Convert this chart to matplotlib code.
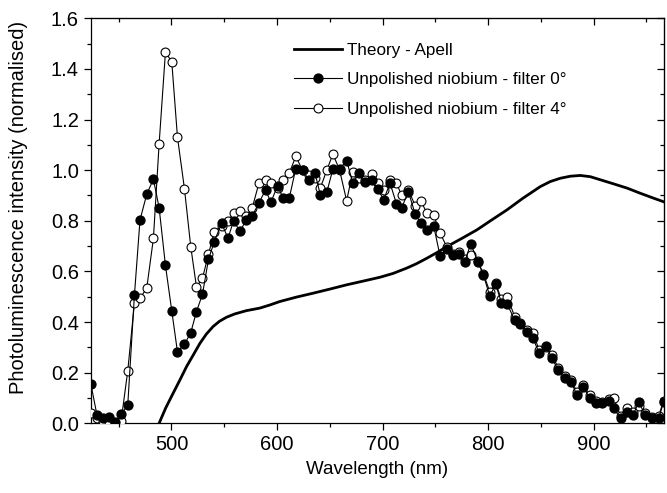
import matplotlib
matplotlib.use("Agg")
import matplotlib.pyplot as plt
from matplotlib.ticker import MultipleLocator, FormatStrFormatter

plt.rcParams['font.family'] = ['Liberation Sans', 'DejaVu Sans']
plt.rcParams['font.size'] = 14

# wavelength grid (nm), shared by both measured series
wavelength = [
    423.7, 429.4, 435.0, 441.2, 446.9, 452.3, 458.6, 464.9, 470.2, 476.6,
    482.9, 488.3, 494.3, 500.3, 505.7, 512.3, 518.3, 523.7, 529.4, 535.1,
    540.6, 547.5, 553.6, 558.8, 565.1, 570.8, 576.5, 582.9, 589.2, 594.2,
    600.5, 605.9, 611.6, 617.8, 624.2, 629.9, 636.0, 641.1, 647.3, 653.0,
    659.3, 666.0, 671.8, 678.0, 683.4, 689.7, 695.5, 701.1, 707.1, 713.1,
    718.2, 724.5, 730.9, 736.2, 742.0, 748.5, 754.6, 760.7, 766.7, 772.4,
    777.9, 783.6, 790.2, 795.6, 801.6, 807.2, 812.6, 818.2, 825.3, 830.5,
    836.8, 842.5, 848.4, 854.8, 860.6, 866.3, 872.5, 878.6, 884.2, 890.0,
    896.3, 902.6, 908.0, 914.2, 919.0, 925.5, 931.7, 937.4, 942.7, 949.0,
    955.4, 961.7, 966.4,
]

filter0 = [
    0.154, 0.033, 0.020, 0.026, 0.005, 0.037, 0.072, 0.505, 0.803, 0.905,
    0.964, 0.852, 0.624, 0.444, 0.282, 0.312, 0.358, 0.441, 0.510, 0.648,
    0.718, 0.790, 0.731, 0.799, 0.758, 0.804, 0.819, 0.871, 0.922, 0.873,
    0.938, 0.889, 0.889, 1.006, 1.001, 0.962, 0.988, 0.902, 0.915, 1.004,
    1.004, 1.038, 0.949, 0.988, 0.955, 0.962, 0.925, 0.883, 0.949, 0.868,
    0.852, 0.915, 0.827, 0.790, 0.762, 0.779, 0.659, 0.688, 0.665, 0.670,
    0.637, 0.710, 0.639, 0.586, 0.502, 0.549, 0.477, 0.470, 0.407, 0.392,
    0.362, 0.336, 0.278, 0.305, 0.257, 0.211, 0.178, 0.164, 0.112, 0.145,
    0.099, 0.079, 0.081, 0.089, 0.059, 0.020, 0.046, 0.033, 0.083, 0.033,
    0.020, 0.020, 0.085,
]

filter4 = [
    0.040, 0.020, 0.010, 0.005, 0.000, 0.010, 0.207, 0.474, 0.494, 0.534,
    0.730, 1.103, 1.466, 1.428, 1.130, 0.927, 0.697, 0.539, 0.573, 0.668,
    0.757, 0.780, 0.800, 0.830, 0.840, 0.820, 0.850, 0.949, 0.962, 0.951,
    0.930, 0.962, 0.988, 1.054, 1.000, 0.980, 0.970, 0.930, 1.001, 1.064,
    1.000, 0.879, 0.994, 0.970, 0.960, 0.985, 0.951, 0.920, 0.960, 0.949,
    0.900, 0.922, 0.860, 0.880, 0.830, 0.823, 0.751, 0.698, 0.670, 0.675,
    0.650, 0.665, 0.640, 0.590, 0.520, 0.553, 0.490, 0.500, 0.420, 0.395,
    0.370, 0.356, 0.290, 0.300, 0.270, 0.220, 0.185, 0.170, 0.125, 0.150,
    0.110, 0.090, 0.085, 0.095, 0.099, 0.030, 0.060, 0.045, 0.070, 0.040,
    0.025, 0.030, 0.090,
]

# Apell theory curve
theory_x = [488.3, 494.5, 501.5, 508.0, 514.3, 520.0, 527.0, 533.0, 539.4, 545.5,
            552.2, 560.0, 571.1, 583.7, 593.0, 602.7, 618.0, 634.3, 650.0, 666.0,
            682.0, 697.7, 710.0, 722.9, 732.0, 742.0, 751.0, 761.0, 775.0, 789.4,
            803.0, 817.9, 833.0, 849.5, 859.0, 868.5, 878.0, 887.4, 897.0, 906.3,
            918.0, 931.7, 944.0, 957.0, 969.7]
theory_y = [0.000, 0.060, 0.118, 0.171, 0.224, 0.265, 0.316, 0.352, 0.382, 0.403,
            0.419, 0.432, 0.445, 0.455, 0.467, 0.481, 0.498, 0.514, 0.530, 0.547,
            0.562, 0.577, 0.592, 0.613, 0.630, 0.652, 0.673, 0.698, 0.730, 0.764,
            0.802, 0.843, 0.889, 0.935, 0.955, 0.968, 0.976, 0.979, 0.974, 0.962,
            0.947, 0.929, 0.909, 0.889, 0.870]

fig = plt.figure(figsize=(6.67, 4.93), dpi=100)
ax = fig.add_axes([0.136, 0.1414, 0.86, 0.8216])

ax.plot(theory_x, theory_y, color='black', lw=2.0, zorder=2, label='Theory - Apell')
ax.plot(wavelength, filter4, color='black', lw=0.8, marker='o', ms=6.4,
        mfc='white', mec='black', mew=0.8, zorder=3,
        label='Unpolished niobium - filter 4°')
ax.plot(wavelength, filter0, color='black', lw=0.8, marker='o', ms=6.4,
        mfc='black', mec='black', zorder=4,
        label='Unpolished niobium - filter 0°')

ax.set_xlim(423.5, 967)
ax.set_ylim(0, 1.6)
ax.xaxis.set_major_locator(MultipleLocator(100))
ax.xaxis.set_minor_locator(MultipleLocator(50))
ax.yaxis.set_major_locator(MultipleLocator(0.2))
ax.yaxis.set_minor_locator(MultipleLocator(0.1))
ax.yaxis.set_major_formatter(FormatStrFormatter('%.1f'))
ax.tick_params(which='both', direction='out', width=0.9, top=False, right=False,
               labelsize=14.5)
ax.tick_params(which='major', length=5)
ax.tick_params(which='minor', length=3)
for s in ax.spines.values():
    s.set_linewidth(0.9)

# mirrored ticks pointing inward on top and right
secx = ax.secondary_xaxis('top')
secx.xaxis.set_major_locator(MultipleLocator(100))
secx.xaxis.set_minor_locator(MultipleLocator(50))
secx.tick_params(which='both', direction='in', labeltop=False, width=0.9)
secx.tick_params(which='major', length=5)
secx.tick_params(which='minor', length=3)
secy = ax.secondary_yaxis('right')
secy.yaxis.set_major_locator(MultipleLocator(0.2))
secy.yaxis.set_minor_locator(MultipleLocator(0.1))
secy.tick_params(which='both', direction='in', labelright=False, width=0.9)
secy.tick_params(which='major', length=5)
secy.tick_params(which='minor', length=3)

ax.set_xlabel('Wavelength (nm)', fontsize=13.5, labelpad=5)
ax.set_ylabel('Photoluminescence intensity (normalised)', fontsize=14.5)
ax.yaxis.set_label_coords(-0.11, 0.533)

h, l = ax.get_legend_handles_labels()
ax.legend([h[0], h[2], h[1]], [l[0], l[2], l[1]], loc='upper left',
          bbox_to_anchor=(0.355, 0.94), frameon=False, borderpad=0,
          borderaxespad=0, handlelength=2.8, handletextpad=0.3,
          labelspacing=0.86, fontsize=12.3)

fig.savefig('out.png', dpi=100)
